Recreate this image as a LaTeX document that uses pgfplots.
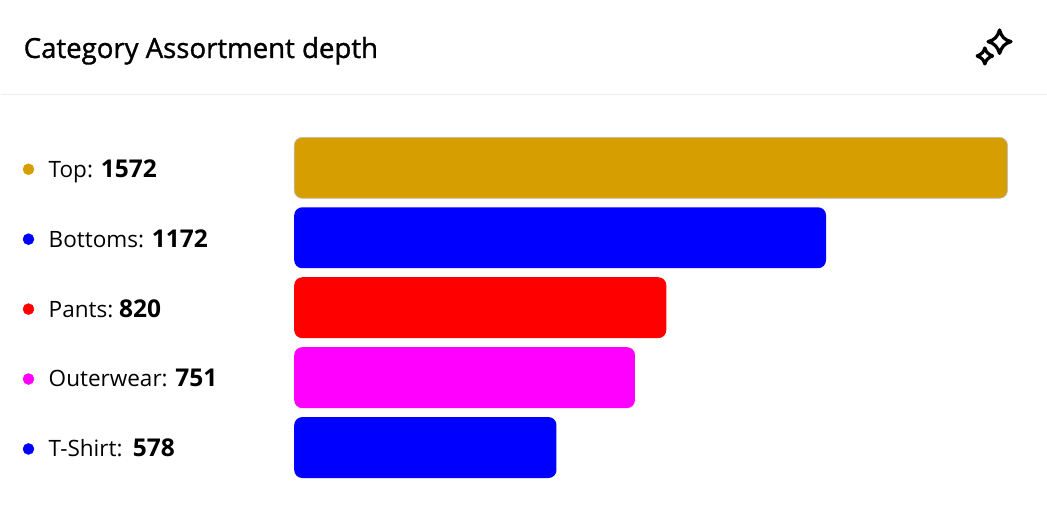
\documentclass[border=0pt]{standalone}
\usepackage{fontspec}
\setmainfont{Open Sans}
\newfontfamily\titlefont[FakeBold=1.2]{Open Sans}
\usepackage{pgfplots}
\pgfplotsset{compat=1.18}
\definecolor{gold}{HTML}{D69E00}
\definecolor{pureblue}{HTML}{0000FF}
\definecolor{purered}{HTML}{FF0000}
\definecolor{puremagenta}{HTML}{FF00FF}
\definecolor{rulegrey}{HTML}{EEEEEE}
\newcommand{\val}[1]{{\fontsize{18.4pt}{20pt}\selectfont\bfseries #1}}
\begin{document}
\begin{tikzpicture}[x=0.75pt,y=0.75pt]
% page size: 1 unit = 1 reference pixel
\path (0,0) rectangle (1047,510);
\begin{axis}[
    at={(220.5pt,0pt)},
    anchor=south west,
    scale only axis,
    width=564.75pt,
    height=382.5pt,
    xbar,
    bar width=45.75pt,
    bar shift=0pt,
    xmin=0,
    xmax=1657.9,
    ymin=-2.4,
    ymax=4.886,
    y dir=reverse,
    clip=false,
    axis line style={draw=none},
    xtick=\empty,
    ytick={0,1,2,3,4},
    yticklabels={Top: \val{1572},Bottoms: \val{1172},Pants:\hspace{-1.5pt} \val{820},Outerwear: \val{751},T-Shirt:\hspace{2pt} \val{578}},
    major tick length=0pt,
    y tick style={draw=none},
    yticklabel style={anchor=base west,xshift=-184.5pt,yshift=-7pt,inner sep=0pt,font=\fontsize{16.9pt}{20pt}\selectfont},
    ]
\addplot[fill=gold,draw=black!25,line width=0.5pt,rounded corners=6pt] coordinates {(1572,0)};
\addplot[fill=pureblue,draw=none,rounded corners=6pt] coordinates {(1172,1)};
\addplot[fill=purered,draw=none,rounded corners=6pt] coordinates {(820,2)};
\addplot[fill=puremagenta,draw=none,rounded corners=6pt] coordinates {(751,3)};
\addplot[fill=pureblue,draw=none,rounded corners=6pt] coordinates {(578,4)};
% legend dots
\addplot[only marks,mark=*,mark size=4.1pt,color=gold] coordinates {(-585.6,0.02)};
\addplot[only marks,mark=*,mark size=4.1pt,color=pureblue] coordinates {(-585.6,1.02)};
\addplot[only marks,mark=*,mark size=4.1pt,color=purered] coordinates {(-585.6,2.02)};
\addplot[only marks,mark=*,mark size=4.1pt,color=puremagenta] coordinates {(-585.6,3.02)};
\addplot[only marks,mark=*,mark size=4.1pt,color=pureblue] coordinates {(-585.6,4.02)};
\end{axis}
\node[anchor=base west,inner sep=0pt,font=\titlefont\fontsize{20.7pt}{24pt}\selectfont] at (23,452) {Category Assortment depth};
\draw[rulegrey,line width=0.75pt] (0,415) -- (1047,415);
% sparkle icon
\draw[black,line width=2.4pt,line join=round]
  (1000,480) .. controls (1002,473) and (1005,470) .. (1011.5,468.3)
  .. controls (1005,466.6) and (1002,463) .. (1000,456.5)
  .. controls (998,463) and (995,466.6) .. (988.5,468.3)
  .. controls (995,470) and (998,473) .. (1000,480) -- cycle;
\draw[black,line width=2.4pt,line join=round]
  (985.3,462) .. controls (986.5,458) and (988,456) .. (993,454)
  .. controls (988,452) and (986.5,450) .. (985.3,446)
  .. controls (984,450) and (982.5,452) .. (977.6,454)
  .. controls (982.5,456) and (984,458) .. (985.3,462) -- cycle;
\end{tikzpicture}
\end{document}
